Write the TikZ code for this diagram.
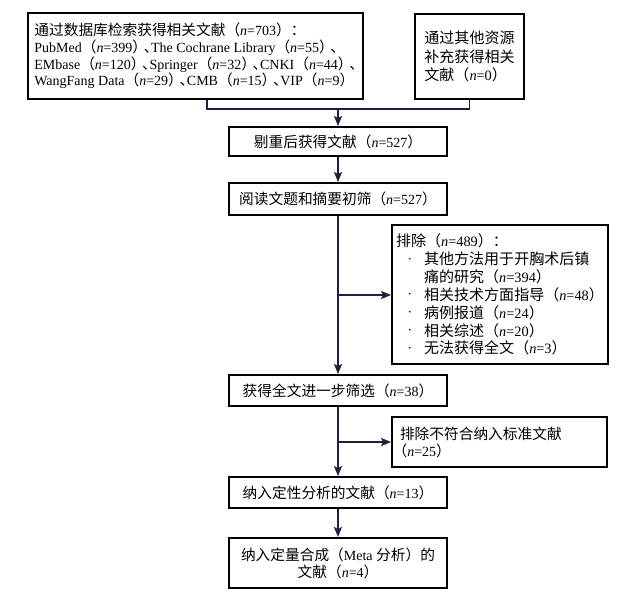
\documentclass[tikz,border=0pt]{standalone}
\usepackage{fontspec}
\setmainfont{Liberation Serif}
\newfontfamily\cjk{Noto Sans CJK SC}[Scale=1.05]
\newfontfamily\cjkh{Noto Sans CJK SC}[Scale=1.05,RawFeature=+halt]
\usetikzlibrary{arrows.meta,calc}
\definecolor{linec}{RGB}{38,28,62}
\newcommand\nv{\textit{n}}
\newcommand\zlp{{\cjk （}}
\newcommand\zlph{{\cjkh （}}
\newcommand\zrp{{\cjk ）}}
\newcommand\zrpd{{\cjkh ）}\kern4pt{\cjkh 、}}
\newcommand\zcolon{{\cjk ：}}
\newcommand\bul{\makebox[28pt][l]{\hspace{12.5pt}\raisebox{3.3pt}{\fontsize{7}{7}\selectfont\textbullet}}}
\newcommand\ind{\hspace*{28pt}}
\tikzset{
  box/.style={draw=black, line width=1.9pt, inner sep=0pt, align=center},
  arr/.style={draw=linec, line width=1.8pt, -{Stealth[length=10pt,width=8pt,inset=2pt]}},
  conn/.style={draw=linec, line width=1.8pt},
}
\begin{document}
\begin{tikzpicture}[x=1pt,y=-1pt,font=\fontsize{14}{17}\selectfont]
\useasboundingbox (0,0) rectangle (630,595);
\node[box, minimum width=335pt, minimum height=86pt, align=left, font=\fontsize{14}{16.7}\selectfont] (b1) at (195.5,56)
 {{\cjk 通过数据库检索获得相关文献}\zlp\nv=703\zrp\zcolon\\
  PubMed\zlp\nv=399\zrpd The Cochrane Library\zlp\nv=55\zrpd\\
  EMbase\zlp\nv=120\zrpd Springer\zlp\nv=32\zrpd CNKI\zlp\nv=44\zrpd\\
  WangFang Data\zlp\nv=29\zrpd CMB\zlp\nv=15\zrpd VIP\zlp\nv=9\zrp};
\node[box, minimum width=109pt, minimum height=85pt, align=left, font=\fontsize{14.3}{18.5}\selectfont] (b2) at (469.5,56.5)
 {{\cjk 通过其他资源}\\{\cjk 补充获得相关}\\{\cjk 文献}\zlp\nv=0\zrp};
\node[box, minimum width=218pt, minimum height=29pt] (b3) at (338,141.5)
 {{\cjk 剔重后获得文献}\zlp\nv=527\zrp};
\node[box, minimum width=218pt, minimum height=32pt] (b4) at (338,199)
 {{\cjk 阅读文题和摘要初筛}\zlp\nv=527\zrp};
\node[box, minimum width=216pt, minimum height=139pt, align=left, font=\fontsize{14.3}{17.9}\selectfont] (ex1) at (500,294.5)
 {{\cjk 排除}\zlp\nv=489\zrp\zcolon\\
  \bul{\cjk 其他方法用于开胸术后镇}\\
  \ind{\cjk 痛的研究}\zlp\nv=394\zrp\\
  \bul{\cjk 相关技术方面指导}\zlp\nv=48\zrp\\
  \bul{\cjk 病例报道}\zlp\nv=24\zrp\\
  \bul{\cjk 相关综述}\zlp\nv=20\zrp\\
  \bul{\cjk 无法获得全文}\zlp\nv=3\zrp};
\node[box, minimum width=218pt, minimum height=31pt] (b5) at (338,390.5)
 {{\cjk 获得全文进一步筛选}\zlp\nv=38\zrp};
\node[box, minimum width=215pt, minimum height=50pt, align=left, text width=199pt, inner xsep=8pt] (ex2) at (499.5,442)
 {{\cjk 排除不符合纳入标准文献}\\\zlph\nv=25\zrp};
\node[box, minimum width=218pt, minimum height=31pt] (b6) at (338,492.5)
 {{\cjk 纳入定性分析的文献}\zlp\nv=13\zrp};
\node[box, minimum width=218pt, minimum height=50pt] (b7) at (338,563)
 {{\cjk 纳入定量合成}\zlp Meta {\cjk 分析}\zrp{\cjk 的}\\{\cjk 文献}\zlp\nv=4\zrp};
% merge connector
\coordinate (j1) at ([xshift=11.5pt]b1.south);
\coordinate (j) at (338,108);
\draw[conn] (j1) -- ++(0,9) -| (b2.south);
\draw[arr] (j) -- (b3.north);
\draw[arr] (b3.south) -- (b4.north);
\draw[arr] (b4.south) -- (b5.north);
\coordinate (k1) at (338,295);
\draw[arr] (k1) -- (k1 -| ex1.west);
\draw[arr] (b5.south) -- (b6.north);
\coordinate (k2) at (338,442);
\draw[arr] (k2) -- (k2 -| ex2.west);
\draw[arr] (b6.south) -- (b7.north);
\end{tikzpicture}
\end{document}
